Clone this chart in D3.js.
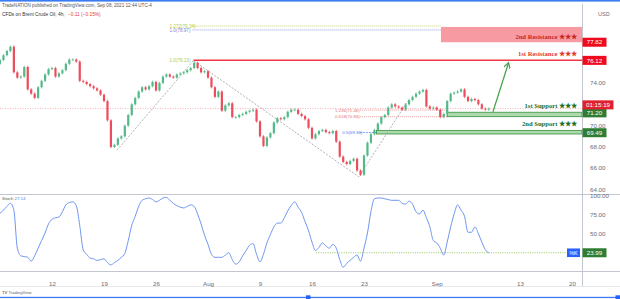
<!DOCTYPE html>
<meta charset="utf-8">
<head>
  <title>Brent Crude Oil 4h</title>
  <style>
    body { margin: 0; background: #fff; }
    svg text { font-family: "Liberation Sans", Arial, sans-serif; }
    .axis text { fill: #6a6d78; font-size: 6.2px; }
    .axis path, .axis line { display: none; }
    .lvl { font-family: "Liberation Serif", serif !important; font-weight: bold; font-size: 6.6px; }
  </style>
  <script src="https://d3js.org/d3.v7.min.js"></script>
</head>
<body>
<svg id="chart" width="620" height="299"></svg>
<script>
// 8h steps (3 per trading day, starting Mon Jul 5)
var firstOpen = 75.8;
var closes = [
  76.15, 76.6, 77.0, 77.4, 75.0, 74.5, 74.6, 75.5, 73.4, 73.0,
  72.6, 73.6, 74.2, 74.8, 75.3, 75.4, 74.6, 74.9, 75.2, 75.8,
  76.2, 76.2, 76.0, 74.2, 74.1, 73.9, 73.7, 73.5, 73.3, 72.9,
  72.3, 70.5, 68.0, 68.2, 68.8, 69.0, 70.0, 71.0, 72.0, 72.6,
  73.2, 73.6, 73.4, 73.7, 74.1, 73.3, 74.0, 74.6, 74.8, 74.6,
  74.5, 74.8, 74.9, 75.0, 75.2, 75.4, 75.9, 75.4, 75.0, 75.1,
  74.5, 73.6, 72.7, 73.2, 71.4, 71.9, 72.1, 70.8, 70.8, 71.0,
  71.1, 71.3, 71.4, 71.5, 70.4, 69.0, 68.1, 68.9, 69.3, 70.3,
  70.7, 70.6, 70.8, 71.3, 71.5, 71.5, 71.1, 70.9, 70.6, 69.8,
  68.8, 69.2, 69.5, 69.6, 69.4, 69.3, 69.5, 68.5, 67.1, 66.6,
  66.4, 66.7, 66.9, 65.8, 65.4, 67.2, 68.4, 69.2, 69.6, 70.2,
  70.8, 71.0, 71.7, 72.0, 71.8, 71.7, 71.5, 72.0, 72.4, 72.7,
  73.0, 73.2, 73.35, 71.8, 71.6, 71.7, 71.5, 70.8, 71.1, 72.3,
  73.0, 73.1, 73.2, 73.4, 72.7, 72.3, 72.5, 72.4, 72.0, 71.6,
  71.5, 71.6
];
var stoch = [
  76, 80, 85, 89, 80, 30, 20, 19, 18, 13,
  20, 30, 40, 50, 62, 68, 70, 71, 78, 87,
  90, 91, 86, 60, 28, 22, 17, 16, 14, 15,
  16, 11, 8, 11, 14, 18, 23, 40, 60, 72,
  85, 93, 95, 96, 94, 91, 93, 96, 97, 93,
  89, 86, 84, 83, 85, 87, 85, 75, 62, 47,
  35, 22, 18, 18, 18, 21, 24, 15, 9, 12,
  20, 27, 34, 36, 22, 12, 22, 37, 48, 58,
  63, 63, 70, 79, 86, 91, 84, 77, 65, 53,
  38, 27, 31, 37, 33, 30, 35, 30, 15, 5,
  10, 14, 18, 21, 13, 30, 50, 78, 95, 96,
  96, 95, 94, 93, 93, 93, 89, 88, 92, 88,
  78, 75, 80, 70, 58, 40, 37, 30, 21, 38,
  58, 75, 87, 80, 72, 51, 51, 58, 49, 38,
  28, 24
];
var perDay = 3;

var tickDays = [5, 10, 15, 20, 25, 30, 35, 42, 50, 55];
var tickLabels = ["12", "19", "26", "Aug", "9", "16", "23", "Sep", "13", "20"];
// 72, 76 and 78 sit under the label boxes in the picture
var priceTicks = [64, 66, 68, 70, 74];
var stochTicks = [50, 75, 100];

var levelNames = ["2nd Resistance", "1st Resistance", "1st Support", "2nd Support"];
var levelValues = [77.82, 76.12, 71.20, 69.49];
var zoneTop = 79.25;            // top of the 2nd resistance box
var supportBand1 = [71.26, 70.84];
var supportBand2 = [69.56, 69.22];
var lastPrice = 71.6;
var countdown = "01:15:19";
var stochLast = 23.99;

// fibonacci labels [day, value, text]
var fibTop = [[16.3, 79.34, "1.272(79.34)"], [16.3, 78.97, "1.0(78.97)"], [16.3, 76.13, "1.0(76.13)"]];
var fibMid = [[32.2, 71.46, "1.236(71.46)"], [32.2, 70.84, "0.618(70.84)"], [32.9, 69.36, "0.5(69.36)"]];
// swing points of the dashed fib tools [day, price]
var swings = [[11.25, 67.7], [18.6, 76.1], [34.5, 65.2], [39.2, 72.3]];
var arrowPts = [[47.4, 71.3], [48.9, 75.9]];

var svg = d3.select('#chart');
var paneRight = 582;

var x = d3.scaleLinear().domain([0, 56]).range([0, 582.4]);
var y = d3.scaleLinear().domain([64, 78]).range([189.7, 40.3]);
var ys = d3.scaleLinear().domain([0, 100]).range([271, 195]);

svg.append('rect').attr('width', 620).attr('height', 299).attr('fill', '#fff');

svg.append('clipPath').attr('id', 'mainclip')
  .append('rect').attr('x', 0).attr('y', 4).attr('width', paneRight).attr('height', 190);
svg.append('clipPath').attr('id', 'subclip')
  .append('rect').attr('x', 0).attr('y', 195).attr('width', paneRight).attr('height', 76);

// frame lines
var frame = svg.append('g').attr('stroke', '#c3c6ce').attr('stroke-width', 1);
frame.append('line').attr('x1', 0).attr('x2', 620).attr('y1', 194.5).attr('y2', 194.5);
frame.append('line').attr('x1', 0).attr('x2', 620).attr('y1', 271.5).attr('y2', 271.5);
frame.append('line').attr('x1', paneRight + 0.5).attr('x2', paneRight + 0.5).attr('y1', 4).attr('y2', 287);
frame.append('line').attr('x1', 0).attr('x2', 620).attr('y1', 286.5).attr('y2', 286.5).attr('stroke', '#e6e8ec');

var main = svg.append('g').attr('clip-path', 'url(#mainclip)');

// zones and levels
main.append('rect')
  .attr('x', x(42.4)).attr('width', paneRight - x(42.4))
  .attr('y', y(zoneTop)).attr('height', y(levelValues[0]) - y(zoneTop))
  .attr('fill', '#f23645').attr('fill-opacity', 0.5);

main.append('line')
  .attr('x1', x(18.6)).attr('x2', paneRight)
  .attr('y1', y(levelValues[1])).attr('y2', y(levelValues[1]))
  .attr('stroke', '#f23645').attr('stroke-width', 1.5);

main.append('rect')
  .attr('x', x(43)).attr('width', paneRight - x(43))
  .attr('y', y(supportBand1[0])).attr('height', y(supportBand1[1]) - y(supportBand1[0]))
  .attr('fill', '#66bb6a').attr('fill-opacity', 0.55)
  .attr('stroke', '#388e3c').attr('stroke-width', 0.8);

main.append('rect')
  .attr('x', x(36.2)).attr('width', paneRight - x(36.2))
  .attr('y', y(supportBand2[0])).attr('height', y(supportBand2[1]) - y(supportBand2[0]))
  .attr('fill', '#66bb6a').attr('fill-opacity', 0.55)
  .attr('stroke', '#388e3c').attr('stroke-width', 0.8);

// last price line
main.append('line')
  .attr('x1', 0).attr('x2', paneRight)
  .attr('y1', y(lastPrice)).attr('y2', y(lastPrice))
  .attr('stroke', '#f59aa2').attr('stroke-width', 0.8).attr('stroke-dasharray', '1,1.5');

// fib lines near the top
var fibColors = ['#b5cc4a', '#7a86d6', '#9ccc65'];
fibTop.slice(0, 2).forEach(function(f, i) {
  main.append('line')
    .attr('x1', x(18.5)).attr('x2', x(42.4))
    .attr('y1', y(f[1])).attr('y2', y(f[1]))
    .attr('stroke', fibColors[i]).attr('stroke-width', 0.8).attr('stroke-dasharray', '1,1');
});
fibTop.forEach(function(f, i) {
  main.append('text').attr('x', x(f[0])).attr('y', y(f[1]) + 1.6)
    .attr('font-size', 4.6).attr('fill', fibColors[i]).text(f[2]);
});

// fib lines in the middle
var midColors = ['#e57373', '#e57373', '#4f7be8'];
fibMid.forEach(function(f, i) {
  main.append('line')
    .attr('x1', x(34.6)).attr('x2', i < 2 ? x(43) : x(36.2))
    .attr('y1', y(f[1])).attr('y2', y(f[1]))
    .attr('stroke', midColors[i]).attr('stroke-width', 0.7)
    .attr('stroke-dasharray', i < 2 ? '1,1' : '2,1');
  main.append('text').attr('x', x(f[0])).attr('y', y(f[1]) + 1.6)
    .attr('font-size', 4.4).attr('fill', midColors[i]).text(f[2]);
});

// dashed swing lines
var swingLine = d3.line().x(function(d) { return x(d[0]); }).y(function(d) { return y(d[1]); });
main.append('path').datum(swings)
  .attr('d', swingLine).attr('fill', 'none')
  .attr('stroke', '#9a9ca3').attr('stroke-width', 0.8).attr('stroke-dasharray', '2,1.5');

// candles
var wick = 0.12;
var candles = closes.map(function(c, i) {
  var o = i === 0 ? firstOpen : closes[i - 1];
  return { i: i, o: o, c: c };
});

var cg = main.selectAll('g.candle').data(candles).enter()
  .append('g').attr('class', 'candle');

cg.append('line')
  .attr('x1', function(d) { return x(d.i / perDay); })
  .attr('x2', function(d) { return x(d.i / perDay); })
  .attr('y1', function(d) { return y(Math.max(d.o, d.c) + wick); })
  .attr('y2', function(d) { return y(Math.min(d.o, d.c) - wick); })
  .attr('stroke', function(d) { return d.c >= d.o ? '#53b987' : '#eb4d5c'; })
  .attr('stroke-width', 0.7);

cg.append('rect')
  .attr('x', function(d) { return x(d.i / perDay) - 1.1; })
  .attr('width', 2.2)
  .attr('y', function(d) { return y(Math.max(d.o, d.c)); })
  .attr('height', function(d) { return Math.max(0.8, Math.abs(y(d.o) - y(d.c))); })
  .attr('fill', function(d) { return d.c >= d.o ? '#53b987' : '#eb4d5c'; });

// arrow
svg.append('defs').append('marker')
  .attr('id', 'arr').attr('viewBox', '0 0 6 6').attr('refX', 5).attr('refY', 3)
  .attr('markerWidth', 6).attr('markerHeight', 6).attr('orient', 'auto')
  .append('path').attr('d', 'M0,0 L5,3 L0,6').attr('fill', 'none')
  .attr('stroke', '#43a047').attr('stroke-width', 1);

main.append('path').datum(arrowPts)
  .attr('d', swingLine).attr('fill', 'none')
  .attr('stroke', '#43a047').attr('stroke-width', 1.2)
  .attr('marker-end', 'url(#arr)');

// level captions
var capColors = ['#c62828', '#e53935', '#1b6e2a', '#1b6e2a'];
var capOffset = [-3, -4, -3.8, -4];
levelNames.forEach(function(n, i) {
  var ly = i === 2 ? y(supportBand1[0]) : (i === 3 ? y(supportBand2[0]) : y(levelValues[i]));
  svg.append('text').attr('class', 'lvl')
    .attr('x', 577).attr('y', ly + capOffset[i])
    .attr('text-anchor', 'end').attr('fill', capColors[i])
    .text(n + ' \u2605\u2605\u2605');
});

// axes
var xAxis = d3.axisBottom(x).tickValues(tickDays).tickSize(0)
  .tickFormat(function(d, i) { return tickLabels[i]; });
svg.append('g').attr('class', 'axis').attr('transform', 'translate(0,279)').call(xAxis);

var yAxis = d3.axisRight(y).tickValues(priceTicks).tickSize(0).tickFormat(d3.format('.2f'));
svg.append('g').attr('class', 'axis').attr('transform', 'translate(587,-0.5)').call(yAxis);

var sAxis = d3.axisRight(ys).tickValues(stochTicks).tickSize(0).tickFormat(d3.format('.2f'));
svg.append('g').attr('class', 'axis').attr('transform', 'translate(587,1)').call(sAxis);

svg.append('text').attr('x', 598).attr('y', 16).attr('font-size', 5.5).attr('fill', '#6a6d78').text('USD');

// price label boxes (dy nudges a box off the tick text it would cover)
function priceBox(v, txt, col, w, dy) {
  var g = svg.append('g');
  var cy = y(v) + (dy || 0);
  g.append('rect').attr('x', 582.5).attr('y', cy - 4.5).attr('width', w).attr('height', 9).attr('fill', col);
  g.append('text').attr('x', 582.5 + w / 2).attr('y', cy + 2.2).attr('text-anchor', 'middle')
    .attr('font-size', 6.2).attr('fill', '#fff').text(txt);
}
priceBox(levelValues[0], levelValues[0].toFixed(2), '#f00a1d', 24);
priceBox(levelValues[1], levelValues[1].toFixed(2), '#f00a1d', 24);
priceBox(levelValues[3], levelValues[3].toFixed(2), '#2e7d32', 24, 1.6);
priceBox(levelValues[2], levelValues[2].toFixed(2), '#2e7d32', 24);
priceBox(lastPrice + 0.35, countdown, '#e0202f', 31);

// stochastic pane
var sub = svg.append('g').attr('clip-path', 'url(#subclip)');
sub.append('line')
  .attr('x1', x(30.4)).attr('x2', 567)
  .attr('y1', ys(stochLast)).attr('y2', ys(stochLast))
  .attr('stroke', '#8bc34a').attr('stroke-width', 0.9).attr('stroke-dasharray', '1,1.3');

var stochLine = d3.line()
  .x(function(d, i) { return x(i / perDay); })
  .y(function(d) { return ys(d); })
  .curve(d3.curveMonotoneX);
sub.append('path').datum(stoch)
  .attr('d', stochLine).attr('fill', 'none')
  .attr('stroke', '#6f96ef').attr('stroke-width', 1);

svg.append('rect').attr('x', 567).attr('y', ys(stochLast) - 4.3).attr('width', 13).attr('height', 8.6).attr('fill', '#2962ff');
svg.append('text').attr('x', 573.5).attr('y', ys(stochLast) + 2).attr('text-anchor', 'middle')
  .attr('font-size', 5.6).attr('fill', '#fff').text('%K');
svg.append('rect').attr('x', 582.5).attr('y', ys(stochLast) - 4.5).attr('width', 24).attr('height', 9).attr('fill', '#2e7d32');
svg.append('text').attr('x', 594.5).attr('y', ys(stochLast) + 2.2).attr('text-anchor', 'middle')
  .attr('font-size', 6.2).attr('fill', '#fff').text(stochLast.toFixed(2));

svg.append('text').attr('x', 2).attr('y', 200).attr('font-size', 4.4).attr('fill', '#555')
  .text('Stoch ').append('tspan').attr('fill', '#4f7be8').text('27.14');

// header
svg.append('rect').attr('x', 0).attr('y', 0).attr('width', 620).attr('height', 1.6).attr('fill', '#3b7cf2');
svg.append('text').attr('x', 2).attr('y', 7).attr('font-size', 4.6).attr('fill', '#555')
  .text('TradeNATION published on TradingView.com, Sep 08, 2021 12:44 UTC-4');
var t2 = svg.append('text').attr('x', 2).attr('y', 16).attr('font-size', 4.8).attr('fill', '#333');
t2.append('tspan').text('CFDs on Brent Crude Oil, 4h, ');
t2.append('tspan').attr('x', 68).attr('fill', '#e53935').text('\u22120.11 (\u22120.15%)');

// footer
svg.append('text').attr('x', 2).attr('y', 293.5).attr('font-size', 4.2).attr('fill', '#333')
  .text('TV ').append('tspan').attr('fill', '#666').text('TradingView');
svg.append('rect').attr('x', 0).attr('y', 296.8).attr('width', 620).attr('height', 1.3).attr('fill', '#3b7cf2');
svg.append('rect').attr('x', 306).attr('y', 295.3).attr('width', 4.5).attr('height', 4.5).attr('fill', '#2962ff');
svg.append('rect').attr('x', 615.5).attr('y', 295.3).attr('width', 4.5).attr('height', 4.5).attr('fill', '#2962ff');
</script>
</body>
</html>
